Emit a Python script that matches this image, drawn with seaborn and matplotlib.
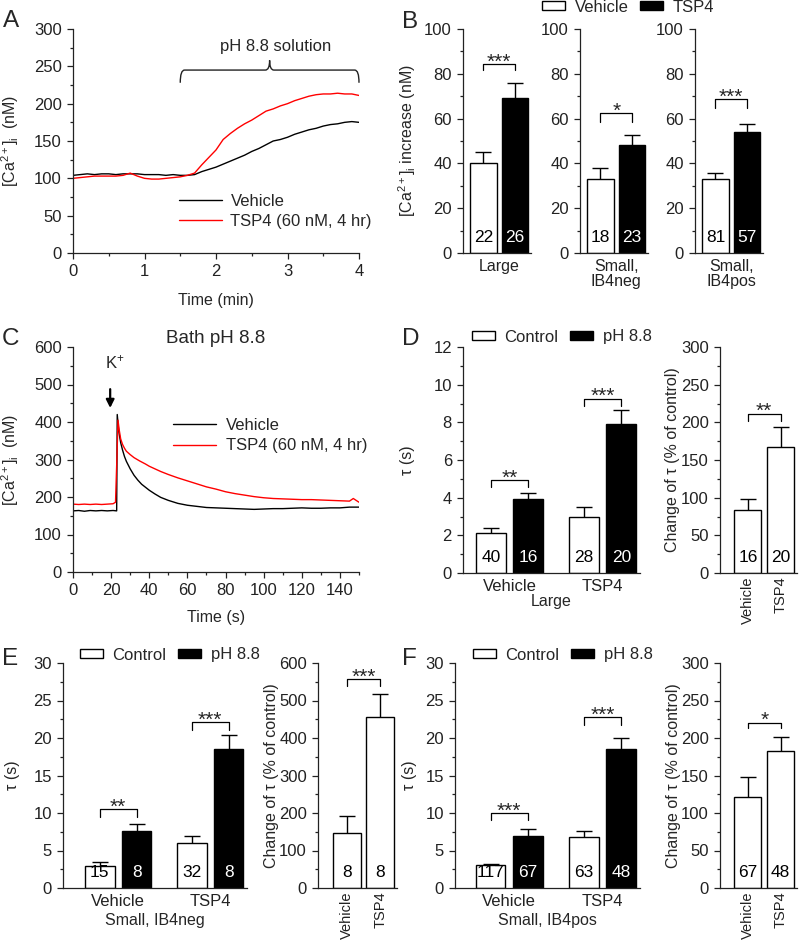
import numpy as np
import pandas as pd
import matplotlib
matplotlib.use('Agg')
import matplotlib.pyplot as plt
import matplotlib.transforms as mtransforms
from matplotlib.patches import Patch, PathPatch
from matplotlib.path import Path
from matplotlib.ticker import MultipleLocator
import seaborn as sns

# ---------------- data ----------------
# panel A: [Ca2+]i traces, time in min
t_a = [0.0, 0.1, 0.2, 0.3, 0.4, 0.5, 0.6, 0.7, 0.8, 0.9, 1.0, 1.1, 1.2, 1.3,
       1.4, 1.5, 1.6, 1.7, 1.8, 1.9, 2.0, 2.1, 2.2, 2.3, 2.4, 2.5, 2.6, 2.7,
       2.8, 2.9, 3.0, 3.1, 3.2, 3.3, 3.4, 3.5, 3.6, 3.7, 3.8, 3.9, 4.0]
vehicle_a = [104, 105, 106, 105, 106, 106, 105, 106, 106, 106, 105, 105, 105, 104,
             105, 104, 104, 105, 109, 112, 115, 119, 123, 127, 131, 136, 140, 145,
             150, 152, 155, 159, 162, 165, 167, 170, 172, 173, 175, 176, 175]
tsp4_a = [100, 101, 102, 103, 103, 103, 103, 104, 107, 103, 100, 99, 99, 100,
          101, 102, 104, 107, 118, 128, 138, 152, 160, 167, 173, 178, 184, 190,
          193, 197, 200, 204, 207, 210, 212, 213, 213, 214, 213, 213, 211]

# panel C: K+ evoked transients at pH 8.8, time in s
t_c_vehicle = [0, 3, 6, 9, 12, 15, 18, 21, 22.9, 23.2, 24, 25, 26, 27, 28, 30, 32, 34,
               36, 38, 40, 43, 46, 50, 55, 60, 65, 70, 75, 80, 85, 90, 95, 100, 105,
               110, 115, 120, 125, 130, 135, 140, 145, 150]
vehicle_c = [163, 164, 162, 164, 163, 164, 163, 164, 163, 420, 375, 345, 325, 308, 295,
             275, 258, 245, 234, 226, 218, 208, 199, 191, 183, 178, 175, 172, 171, 170,
             169, 168, 167, 168, 169, 169, 170, 171, 170, 170, 171, 171, 173, 173]
t_c_tsp4 = [0, 3, 6, 9, 12, 15, 18, 21, 22.3, 23.0, 23.6, 24.2, 25, 26, 27, 28, 30, 32,
            35, 38, 40, 43, 46, 50, 55, 60, 65, 70, 75, 80, 85, 90, 95, 100, 105, 110,
            115, 120, 125, 130, 135, 140, 145, 147, 150]
tsp4_c = [181, 180, 181, 180, 181, 180, 181, 182, 186, 300, 405, 380, 355, 340, 330,
          322, 313, 305, 296, 288, 282, 275, 268, 260, 251, 243, 235, 227, 221, 214,
          209, 205, 201, 198, 196, 195, 194, 193, 193, 192, 191, 190, 189, 196, 186]

# panel B: [Ca2+]i increase (nM)
b_groups = ['Large', 'Small,\nIB4neg', 'Small,\nIB4pos']
b_vehicle = [40, 33, 33]
b_vehicle_err = [5, 5, 2.5]
b_tsp4 = [69, 48, 54]
b_tsp4_err = [7, 4.5, 3.7]
b_n_vehicle = [22, 18, 81]
b_n_tsp4 = [26, 23, 57]
b_sig = ['***', '*', '***']
b_sig_y = [(81.7, 84.4), (58.7, 62.4), (64.6, 68.8)]

# panels D-F, left: tau (s), order Vehicle/Control, Vehicle/pH, TSP4/Control, TSP4/pH
d_tau = [2.15, 3.95, 3.0, 7.9]
d_tau_err = [0.25, 0.32, 0.5, 0.75]
d_tau_n = [40, 16, 28, 20]
d_sig = [('**', 4.57, 4.92), ('***', 8.85, 9.26)]
e_tau = [3.0, 7.6, 6.0, 18.5]
e_tau_err = [0.45, 1.0, 1.0, 1.9]
e_tau_n = [15, 8, 32, 8]
e_sig = [('**', 9.5, 10.5), ('***', 21.1, 22.15)]
f_tau = [3.1, 7.0, 6.8, 18.5]
f_tau_err = [0.15, 0.85, 0.8, 1.5]
f_tau_n = [117, 67, 63, 48]
f_sig = [('***', 9.1, 9.97), ('***', 21.8, 22.8)]

# panels D-F, right: change of tau (% of control)
d_pct = [84, 167]
d_pct_err = [14, 27]
d_pct_n = [16, 20]
d_pct_sig = ('**', 201.8, 211.5)
e_pct = [148, 457]
e_pct_err = [45, 60]
e_pct_n = [8, 8]
e_pct_sig = ('***', 538, 557.6)
f_pct = [122, 183]
f_pct_err = [26, 18]
f_pct_n = [67, 48]
f_pct_sig = ('*', 212.7, 220.6)

treatments = ['Vehicle', 'TSP4']
conditions = ['Control', 'pH 8.8']

# ---------------- style ----------------
sns.set_style('ticks')
plt.rcParams.update({
    'font.family': ['Liberation Sans', 'DejaVu Sans'],
    'font.size': 11.5,
    'mathtext.fontset': 'custom',
    'mathtext.rm': 'Liberation Sans',
    'mathtext.it': 'Liberation Sans:italic',
    'mathtext.bf': 'Liberation Sans:bold',
    'axes.linewidth': 0.9,
    'axes.edgecolor': '#222222',
    'xtick.color': '#222222',
    'ytick.color': '#222222',
    'xtick.major.size': 4.5,
    'ytick.major.size': 4.5,
    'xtick.minor.size': 2.5,
    'ytick.minor.size': 2.5,
    'xtick.major.width': 0.9,
    'ytick.major.width': 0.9,
    'xtick.minor.width': 0.9,
    'ytick.minor.width': 0.9,
    'xtick.labelsize': 12,
    'ytick.labelsize': 12,
    'axes.labelsize': 11.5,
})

W, H = 800, 942
fig = plt.figure(figsize=(W / 100, H / 100), dpi=100)


def add_ax(x0, y0, x1, y1):
    return fig.add_axes([x0 / W, 1 - y1 / H, (x1 - x0) / W, (y1 - y0) / H])


def ylab(ax, text, xpix):
    ax.set_ylabel(text)
    tr = mtransforms.blended_transform_factory(fig.transFigure, ax.transAxes)
    ax.yaxis.set_label_coords(xpix / W, 0.5, transform=tr)


def xlab(ax, text, ypix):
    ax.set_xlabel(text)
    tr = mtransforms.blended_transform_factory(ax.transAxes, fig.transFigure)
    ax.xaxis.set_label_coords(0.5, 1 - ypix / H, transform=tr)


def letter(s, xpix, ypix):
    fig.text(xpix / W, 1 - ypix / H, s, fontsize=17.5, ha='left', va='top')


def sig(ax, x1, x2, ylo, yhi, txt):
    ax.plot([x1, x1, x2, x2], [ylo, yhi, yhi, ylo], color='black', lw=0.9)
    ax.annotate(txt, xy=((x1 + x2) / 2, yhi), xytext=(0, -2.5), textcoords='offset points',
                ha='center', va='baseline', fontsize=15)


def finish_bars(ax, vals, errs, ns, txt_colors):
    bars = sorted(ax.patches, key=lambda p: p.get_x())
    xs = [p.get_x() + p.get_width() / 2 for p in bars]
    eb = ax.errorbar(xs, vals, yerr=[[0] * len(vals), errs], fmt='none', ecolor='black',
                     elinewidth=1, capsize=6, capthick=1)
    eb[1][0].set_visible(False)
    tr = mtransforms.blended_transform_factory(ax.transData, ax.transAxes)
    for x, n, c in zip(xs, ns, txt_colors):
        ax.text(x, 0.068, str(n), transform=tr, ha='center', va='center', color=c, fontsize=12.5)
    return xs


def legend_boxes(labels, xpix, ypix):
    handles = [Patch(facecolor='white', edgecolor='black', lw=1, label=labels[0]),
               Patch(facecolor='black', edgecolor='black', lw=1, label=labels[1])]
    fig.legend(handles=handles, loc='center left', bbox_to_anchor=(xpix / W, 1 - ypix / H),
               ncol=2, frameon=False, handlelength=1.35, handleheight=0.42, handletextpad=0.6,
               columnspacing=0.7, borderpad=0, borderaxespad=0, fontsize=12)


def brace(ax, x0, x1, yb, yt, ytip, dx):
    xm = (x0 + x1) / 2
    verts = [(x0, yb), (x0, yt), (x0 + dx, yt), (xm - dx, yt), (xm, yt), (xm, ytip),
             (xm, yt), (xm + dx, yt), (x1 - dx, yt), (x1, yt), (x1, yb)]
    codes = [Path.MOVETO, Path.CURVE3, Path.CURVE3, Path.LINETO, Path.CURVE3, Path.CURVE3,
             Path.CURVE3, Path.CURVE3, Path.LINETO, Path.CURVE3, Path.CURVE3]
    ax.add_patch(PathPatch(Path(verts, codes), fill=False, lw=1, color='#222222', clip_on=False))


trace_palette = {'Vehicle': 'black', 'TSP4 (60 nM, 4 hr)': 'red'}
ca_label = r'[Ca$^{\mathrm{2+}}$]$_{\mathrm{i}}$  (nM)'

# ---------------- A ----------------
ax = add_ax(73, 29, 359, 253)
df_a = pd.DataFrame({'t': t_a + t_a, 'ca': vehicle_a + tsp4_a,
                     'grp': ['Vehicle'] * len(t_a) + ['TSP4 (60 nM, 4 hr)'] * len(t_a)})
sns.lineplot(data=df_a, x='t', y='ca', hue='grp', palette=trace_palette, estimator=None,
             lw=1, ax=ax)
ax.set_xlim(0, 4)
ax.set_ylim(0, 300)
ax.xaxis.set_major_locator(MultipleLocator(1))
ax.xaxis.set_minor_locator(MultipleLocator(0.5))
ax.yaxis.set_major_locator(MultipleLocator(50))
ax.yaxis.set_minor_locator(MultipleLocator(25))
sns.despine(ax=ax)
sns.move_legend(ax, 'center left', bbox_to_anchor=(0.37, 0.185), frameon=False, title=None,
                handlelength=2.6, handletextpad=0.5, labelspacing=0.3, borderpad=0,
                borderaxespad=0, fontsize=12)
brace(ax, 1.5, 4.0, 228, 245, 258, 0.06)
ax.text(2.84, 276, 'pH 8.8 solution', ha='center', va='center', fontsize=12)
xlab(ax, 'Time (min)', 293)
ylab(ax, ca_label, 21)
letter('A', 3, 10)

# ---------------- B ----------------
b_lefts = [463, 580, 695]
for i, grp in enumerate(b_groups):
    ax = add_ax(b_lefts[i], 29, b_lefts[i] + 68, 253)
    df_b = pd.DataFrame({'treat': treatments, 'inc': [b_vehicle[i], b_tsp4[i]]})
    sns.barplot(data=df_b, x='treat', y='inc', hue='treat', order=treatments,
                hue_order=treatments, palette={'Vehicle': 'white', 'TSP4': 'black'},
                dodge=False, width=0.85, edgecolor='black', linewidth=1, errorbar=None,
                saturation=1, legend=False, ax=ax)
    xs = finish_bars(ax, [b_vehicle[i], b_tsp4[i]], [b_vehicle_err[i], b_tsp4_err[i]],
                     [b_n_vehicle[i], b_n_tsp4[i]], ['black', 'white'])
    sig(ax, xs[0], xs[1], b_sig_y[i][0], b_sig_y[i][1], b_sig[i])
    ax.set_xlim(-0.65, 1.51)
    ax.set_ylim(0, 100)
    ax.yaxis.set_major_locator(MultipleLocator(20))
    ax.yaxis.set_minor_locator(MultipleLocator(10))
    ax.set_xticks([0.5])
    ax.set_xticklabels([grp], linespacing=1.05, fontsize=11.5)
    ax.tick_params(axis='x', length=0, pad=4)
    ax.set_xlabel('')
    ax.set_ylabel('')
    sns.despine(ax=ax)
    if i == 0:
        ylab(ax, r'[Ca$^{\mathrm{2+}}$]$_{\mathrm{i}}$ increase (nM)', 418)
legend_boxes(['Vehicle', 'TSP4'], 542, 7)
letter('B', 402, 11)

# ---------------- C ----------------
ax = add_ax(73, 347, 359, 572)
df_c = pd.DataFrame({'t': t_c_vehicle + t_c_tsp4, 'ca': vehicle_c + tsp4_c,
                     'grp': ['Vehicle'] * len(t_c_vehicle) + ['TSP4 (60 nM, 4 hr)'] * len(t_c_tsp4)})
sns.lineplot(data=df_c, x='t', y='ca', hue='grp', palette=trace_palette, estimator=None,
             lw=1, ax=ax)
ax.set_xlim(0, 150)
ax.set_ylim(0, 600)
ax.xaxis.set_major_locator(MultipleLocator(20))
ax.xaxis.set_minor_locator(MultipleLocator(10))
ax.yaxis.set_major_locator(MultipleLocator(100))
ax.yaxis.set_minor_locator(MultipleLocator(50))
sns.despine(ax=ax)
sns.move_legend(ax, 'center left', bbox_to_anchor=(0.35, 0.607), frameon=False, title=None,
                handlelength=2.6, handletextpad=0.55, labelspacing=0.35, borderpad=0,
                borderaxespad=0, fontsize=12)
ax.annotate('', xy=(19.5, 430), xytext=(19.5, 495),
            arrowprops=dict(arrowstyle='-|>', lw=1.6, color='black', mutation_scale=12))
ax.text(22, 558, r'K$^{+}$', ha='center', va='center', fontsize=12)
ax.set_title('Bath pH 8.8', fontsize=13.5, pad=3)
xlab(ax, 'Time (s)', 610)
ylab(ax, ca_label, 21)
letter('C', 2, 328)


# ---------------- D, E, F ----------------
def tau_panel(box, xlim, ylim, major, vals, errs, ns, sigs, group_label, ylab_x, xlab_y):
    ax = add_ax(*box)
    df = pd.DataFrame({'treat': [t for t in treatments for _ in conditions],
                       'cond': conditions * 2, 'tau': vals})
    sns.barplot(data=df, x='treat', y='tau', hue='cond', order=treatments,
                hue_order=conditions, palette={'Control': 'white', 'pH 8.8': 'black'},
                width=0.8, gap=0.2, edgecolor='black', linewidth=1, errorbar=None,
                saturation=1, legend=False, ax=ax)
    xs = finish_bars(ax, vals, errs, ns, ['black', 'white', 'black', 'white'])
    for k, (txt, lo, hi) in enumerate(sigs):
        sig(ax, xs[2 * k], xs[2 * k + 1], lo, hi, txt)
    ax.set_xlim(*xlim)
    ax.set_ylim(*ylim)
    ax.yaxis.set_major_locator(MultipleLocator(major))
    ax.yaxis.set_minor_locator(MultipleLocator(major / 2))
    ax.tick_params(axis='x', length=0, pad=4, labelsize=12)
    sns.despine(ax=ax)
    ylab(ax, 'τ (s)', ylab_x)
    xlab(ax, group_label, xlab_y)
    return ax


def pct_panel(box, ylim, major, vals, errs, ns, sg, ylab_x):
    ax = add_ax(*box)
    df = pd.DataFrame({'treat': treatments, 'pct': vals})
    sns.barplot(data=df, x='treat', y='pct', order=treatments, color='white',
                width=0.83, edgecolor='black', linewidth=1, errorbar=None,
                saturation=1, ax=ax)
    xs = finish_bars(ax, vals, errs, ns, ['black', 'black'])
    sig(ax, xs[0], xs[1], sg[1], sg[2], sg[0])
    ax.set_xlim(-0.85, 1.5)
    ax.set_ylim(*ylim)
    ax.yaxis.set_major_locator(MultipleLocator(major))
    ax.yaxis.set_minor_locator(MultipleLocator(major / 2))
    ax.set_xticks([0, 1])
    ax.set_xticklabels(treatments, rotation=90)
    ax.tick_params(axis='x', length=0, pad=2.5, labelsize=10.5)
    ax.set_xlabel('')
    sns.despine(ax=ax)
    ylab(ax, 'Change of τ (% of control)', ylab_x)
    return ax


tau_panel((463, 347, 640, 573), (-0.5, 1.4), (0, 12), 2, d_tau, d_tau_err, d_tau_n, d_sig,
          'Large', 415, 594)
pct_panel((720, 347, 797, 573), (0, 300), 50, d_pct, d_pct_err, d_pct_n, d_pct_sig, 680)
legend_boxes(conditions, 472, 337)
letter('D', 402, 328)

tau_panel((63, 663, 247, 888), (-0.6, 1.4), (0, 30), 5, e_tau, e_tau_err, e_tau_n, e_sig,
          'Small, IB4neg', 20, 913)
pct_panel((318, 663, 397, 888), (0, 600), 100, e_pct, e_pct_err, e_pct_n, e_pct_sig, 279)
legend_boxes(conditions, 80, 655)
letter('E', 2, 648)

tau_panel((455, 663, 640, 888), (-0.58, 1.4), (0, 30), 5, f_tau, f_tau_err, f_tau_n, f_sig,
          'Small, IB4pos', 417, 913)
pct_panel((720, 663, 797, 888), (0, 300), 50, f_pct, f_pct_err, f_pct_n, f_pct_sig, 681)
legend_boxes(conditions, 473, 655)
letter('F', 402, 648)

fig.savefig('out.png', dpi=100)
